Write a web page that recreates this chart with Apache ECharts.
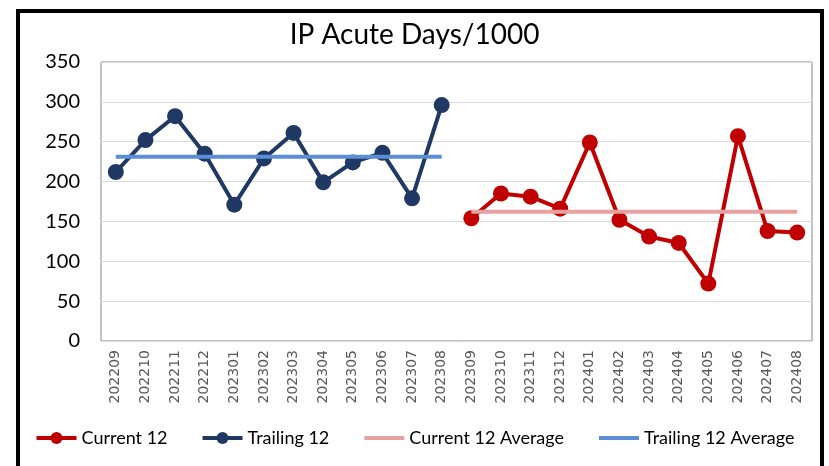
<!DOCTYPE html>
<html>
<head>
    <meta charset="utf-8">
    <title>IP Acute Days/1000</title>
    <script src="https://cdn.jsdelivr.net/npm/echarts@6/dist/echarts.min.js"></script>
    <style>
        body { margin: 0; background: #fff; }
        #main { width: 829px; height: 466px; }
    </style>
</head>
<body>
    <div id="main"></div>
    <script type="text/javascript">
// months on the x axis
var months = ['202209','202210','202211','202212','202301','202302','202303','202304','202305','202306','202307','202308',
              '202309','202310','202311','202312','202401','202402','202403','202404','202405','202406','202407','202408'];
// values
var trailing12 = [212, 252, 282, 235, 171, 229, 261, 199, 224, 236, 179, 296];
var current12 = [154, 185, 181, 166, 249, 152, 131, 123, 72, 257, 138, 136];
var trailingAvg = 231;
var currentAvg = 162;
var yTicks = [0, 50, 100, 150, 200, 250, 300, 350];

var pad = new Array(12).fill(null);
var trailingData = trailing12.concat(pad);
var currentData = pad.concat(current12);
var trailingAvgData = trailing12.map(function () { return trailingAvg; }).concat(pad);
var currentAvgData = pad.concat(current12.map(function () { return currentAvg; }));

var myChart = echarts.init(document.getElementById('main'));
var font = 'Lato';

option = {
    animation: false,
    title: {
        text: 'IP Acute Days/1000',
        left: 'center',
        top: 16,
        textStyle: { fontFamily: font, fontSize: 28, fontWeight: 'normal', color: '#000' }
    },
    graphic: [{
        type: 'rect',
        shape: { x: 18, y: 11, width: 804, height: 480 },
        style: { fill: null, stroke: '#000', lineWidth: 4 },
        silent: true
    }],
    legend: {
        bottom: 14,
        left: 'center',
        itemWidth: 40,
        itemHeight: 15,
        itemGap: 33,
        lineStyle: { width: 4 },
        textStyle: { fontFamily: font, fontSize: 18, color: '#000' },
        data: [
            'Current 12',
            'Trailing 12',
            { name: 'Current 12 Average', itemStyle: { opacity: 0 } },
            { name: 'Trailing 12 Average', itemStyle: { opacity: 0 } }
        ]
    },
    grid: { left: 101, right: 17, top: 62, bottom: 125, show: true, borderColor: '#888', borderWidth: 1 },
    xAxis: {
        type: 'category',
        data: months,
        boundaryGap: true,
        axisLine: { show: false },
        axisTick: { show: false },
        axisLabel: { rotate: 90, margin: 9, fontFamily: 'DejaVu Sans', fontSize: 14, color: '#595959', interval: 0 }
    },
    yAxis: {
        type: 'value',
        min: yTicks[0],
        max: yTicks[yTicks.length - 1],
        interval: 50,
        axisLine: { show: false },
        axisTick: { show: false },
        axisLabel: { margin: 21, fontFamily: font, fontSize: 20, color: '#000' },
        splitLine: { lineStyle: { color: '#d9d9d9', width: 1 } }
    },
    series: [{
        name: 'Current 12',
        type: 'line',
        data: currentData,
        symbol: 'circle',
        symbolSize: 16,
        color: '#C00000',
        lineStyle: { width: 4 },
        z: 4
    }, {
        name: 'Trailing 12',
        type: 'line',
        data: trailingData,
        symbol: 'circle',
        symbolSize: 16,
        color: '#1F3864',
        lineStyle: { width: 4 },
        z: 4
    }, {
        name: 'Current 12 Average',
        type: 'line',
        data: currentAvgData,
        symbol: 'none',
        color: '#E6A1A1',
        lineStyle: { width: 4 },
        z: 5
    }, {
        name: 'Trailing 12 Average',
        type: 'line',
        data: trailingAvgData,
        symbol: 'none',
        color: '#5B8ED6',
        lineStyle: { width: 4 },
        z: 5
    }]
};

if (option && typeof option === "object") {
    myChart.setOption(option);
}
    </script>
</body>
</html>
